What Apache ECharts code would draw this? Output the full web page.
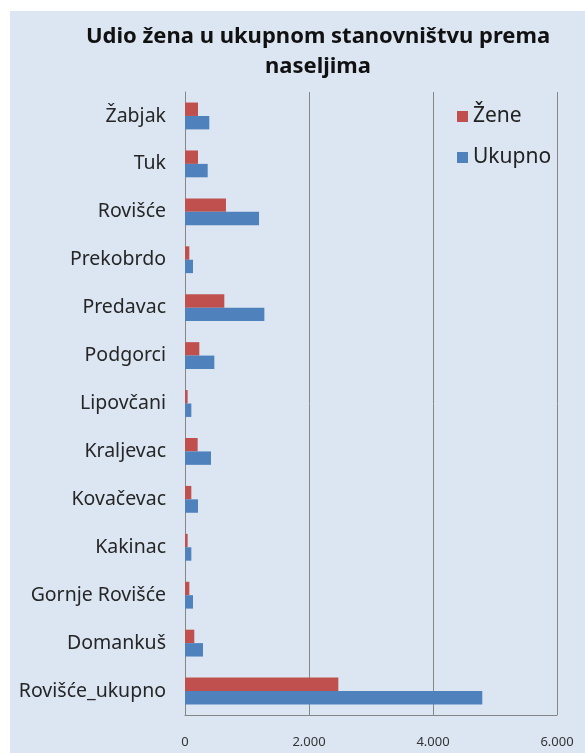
<!DOCTYPE html>
<html>
<head>
<meta charset="utf-8">
<script src="https://cdn.jsdelivr.net/npm/echarts@6/dist/echarts.min.js"></script>
<style>
  html, body { margin: 0; padding: 0; background: #fff; }
  #chart { position: absolute; left: 10px; top: 11px; width: 575px; height: 742px; background: #dce6f2; }
</style>
</head>
<body>
<div id="chart"></div>
<script>
// categories from bottom to top (category y axis starts at the bottom)
const naselja = ["Rovišće_ukupno", "Domankuš", "Gornje Rovišće", "Kakinac", "Kovačevac",
  "Kraljevac", "Lipovčani", "Podgorci", "Predavac", "Prekobrdo", "Rovišće", "Tuk", "Žabjak"];
const zene = [2473, 150, 70, 43, 102, 204, 43, 231, 634, 70, 661, 210, 210];
const ukupno = [4795, 290, 129, 102, 210, 419, 102, 473, 1280, 129, 1194, 366, 392];
const xTicks = { min: 0, max: 6000, interval: 2000 };

const chart = echarts.init(document.getElementById("chart"));
const font = "'Noto Sans', sans-serif";

chart.setOption({
  backgroundColor: "#dce6f2",
  textStyle: { fontFamily: font },
  title: {
    text: "Udio žena u ukupnom stanovništvu prema\nnaseljima",
    left: 303,
    top: 6,
    textAlign: "center",
    textStyle: { fontSize: 22, fontWeight: "bold", color: "#111", lineHeight: 30, fontFamily: font }
  },
  legend: {
    data: ["Žene", "Ukupno"],
    orient: "vertical",
    left: 442,
    top: 90,
    itemWidth: 11,
    itemHeight: 11,
    itemGap: 20,
    icon: "rect",
    textStyle: { fontSize: 21, color: "#222", fontFamily: font }
  },
  grid: { left: 175, right: 28, top: 81, bottom: 38 },
  xAxis: {
    type: "value",
    min: xTicks.min,
    max: xTicks.max,
    interval: xTicks.interval,
    axisLine: { show: true, lineStyle: { color: "#868686" } },
    axisTick: { show: false },
    splitLine: { lineStyle: { color: "#868686", width: 1 } },
    axisLabel: {
      margin: 21,
      fontSize: 13,
      color: "#333",
      formatter: v => v === 0 ? "0" : (v / 1000).toFixed(0) + ".000"
    }
  },
  yAxis: {
    type: "category",
    data: naselja,
    axisLine: { lineStyle: { color: "#868686" } },
    axisTick: { show: false },
    axisLabel: { fontSize: 19.5, color: "#262626", margin: 19 }
  },
  series: [
    {
      name: "Žene", type: "bar", data: zene,
      itemStyle: { color: "#c0504d" },
      barCategoryGap: "44%", barGap: "0%"
    },
    {
      name: "Ukupno", type: "bar", data: ukupno,
      itemStyle: { color: "#4f81bd" },
      barCategoryGap: "44%", barGap: "0%"
    }
  ]
});
</script>
</body>
</html>
